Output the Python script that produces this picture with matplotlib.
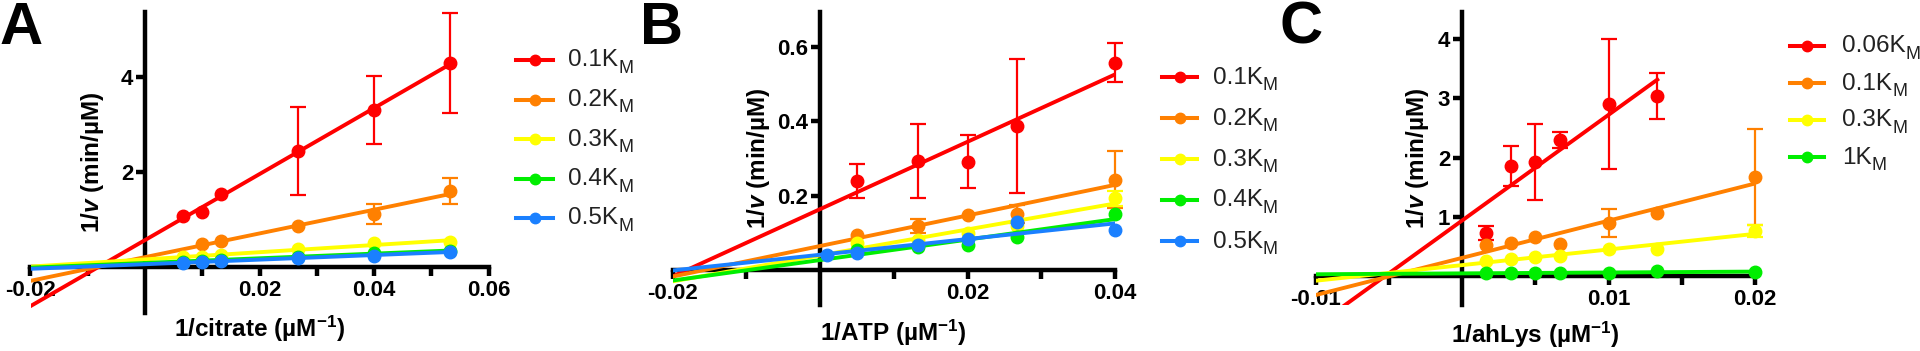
import numpy as np
import matplotlib
matplotlib.use("Agg")
import matplotlib.pyplot as plt
from matplotlib.lines import Line2D

plt.rcParams['font.family'] = 'Liberation Sans'
plt.rcParams['mathtext.fontset'] = 'custom'
plt.rcParams['mathtext.rm'] = 'Liberation Sans'
plt.rcParams['mathtext.it'] = 'Liberation Sans:italic:bold'
plt.rcParams['mathtext.bf'] = 'Liberation Sans:bold'
plt.rcParams['axes.unicode_minus'] = False

colores = ['#FF0000', '#FF8000', '#FFFF00', '#00EE00', '#1A80FF']

# A: 1/citrate
a_x = [0.00667, 0.01, 0.01333, 0.02667, 0.04, 0.05333]
a_labels = ['0.1', '0.2', '0.3', '0.4', '0.5']
a_xs = [a_x, a_x[1:], a_x, a_x, a_x]
a_ys = [[1.08, 1.16, 1.54, 2.44, 3.31, 4.29],
        [0.48, 0.55, 0.86, 1.12, 1.60],
        [0.21, 0.22, 0.25, 0.38, 0.50, 0.53],
        [0.11, 0.13, 0.15, 0.22, 0.30, 0.33],
        [0.08, 0.11, 0.13, 0.19, 0.24, 0.32]]
a_err = [[0, 0, 0, 0.92, 0.72, 1.05],
         [0, 0, 0, 0.21, 0.27],
         [0, 0, 0, 0, 0, 0],
         [0, 0, 0, 0, 0, 0],
         [0, 0, 0, 0, 0, 0]]

# B: 1/ATP
b_x = [0.005, 0.01333, 0.02, 0.02667, 0.04]
b_x_azul = [0.001, 0.005, 0.01333, 0.02, 0.02667, 0.04]
b_labels = ['0.1', '0.2', '0.3', '0.4', '0.5']
b_xs = [b_x, b_x, b_x, b_x, b_x_azul]
b_ys = [[0.239, 0.293, 0.291, 0.387, 0.557],
        [0.094, 0.118, 0.148, 0.150, 0.243],
        [0.072, 0.080, 0.099, 0.118, 0.193],
        [0.054, 0.062, 0.067, 0.089, 0.150],
        [0.040, 0.046, 0.066, 0.082, 0.128, 0.107]]
b_err = [[0.046, 0.10, 0.072, 0.18, 0.052],
         [0, 0.019, 0, 0.024, 0.077],
         [0, 0, 0, 0, 0.02],
         [0, 0, 0, 0, 0],
         [0, 0, 0, 0, 0, 0]]

# C: 1/ahLys
c_x = [0.00167, 0.00333, 0.005, 0.00667, 0.01, 0.01333, 0.02]
c_labels = ['0.06', '0.1', '0.3', '1']
c_xs = [c_x[:6], c_x, c_x, c_x]
c_ys = [[0.73, 1.86, 1.93, 2.30, 2.90, 3.04],
        [0.52, 0.56, 0.66, 0.54, 0.90, 1.06, 1.67],
        [0.25, 0.29, 0.32, 0.33, 0.46, 0.46, 0.76],
        [0.05, 0.05, 0.05, 0.05, 0.05, 0.08, 0.07]]
c_err = [[0.12, 0.335, 0.64, 0.135, 1.1, 0.39],
         [0, 0, 0, 0, 0.235, 0, 0.81],
         [0, 0, 0, 0, 0, 0, 0.10],
         [0, 0, 0, 0, 0, 0, 0]]

W, H = 1920, 351
fig = plt.figure(figsize=(W / 100, H / 100), dpi=100)
rend = fig.canvas.get_renderer()


def caja(x0, x1, ytop, ybot):
    return [x0 / W, 1 - ybot / H, (x1 - x0) / W, (ybot - ytop) / H]


def leyenda(labels, x0, x1, xt, y0, paso):
    # filas de la leyenda en pixeles de la figura
    for i, lab in enumerate(labels):
        yp = y0 + i * paso
        yf = 1 - yp / H
        c = colores[i]
        fig.add_artist(Line2D([x0 / W, x1 / W], [yf, yf], transform=fig.transFigure,
                              color=c, lw=2.9))
        fig.add_artist(Line2D([(x0 + x1) / 2 / W], [yf], transform=fig.transFigure,
                              color=c, marker='o', ms=7.5, lw=0))
        t = fig.text(xt / W, 1 - (yp + 6.5) / H, lab + 'K', fontsize=17.5,
                     color='#222222', va='baseline', ha='left')
        bb = t.get_window_extent(rend)
        fig.text(bb.x1 / W, 1 - (yp + 13) / H, 'M', fontsize=13,
                 color='#222222', va='baseline', ha='left')


def panel(pos, xlim, ylim, xs, ys, errs, xmaj, xmaj_lab, xmin,
          yt, yt_lab, xlabel, ylab_x, xlab_y, letra, letra_x):
    ax = fig.add_axes(pos)
    ax.set_xlim(xlim)
    ax.set_ylim(ylim)
    for i in range(len(xs)):
        x = np.array(xs[i])
        y = np.array(ys[i])
        e = np.array(errs[i])
        c = colores[i]
        coef = np.polyfit(x, y, 1)
        xl = np.array([xlim[0], x.max()])
        ax.plot(xl, np.polyval(coef, xl), color=c, lw=2.8, zorder=3 + i)
        m = e > 0
        if m.any():
            ax.errorbar(x[m], y[m], yerr=e[m], fmt='none', ecolor=c, elinewidth=1.6,
                        capsize=5.5, capthick=1.6, zorder=3 + i, clip_on=False)
        ax.plot(x, y, 'o', color=c, ms=9, zorder=3 + i, clip_on=False)
    for s in ['top', 'right']:
        ax.spines[s].set_visible(False)
    ax.spines['left'].set_position(('data', 0))
    ax.spines['bottom'].set_position(('data', 0))
    for s in ['left', 'bottom']:
        ax.spines[s].set_linewidth(3.2)
        ax.spines[s].set_zorder(2)
    ax.set_xticks(xmaj, xmaj_lab, fontweight='bold')
    ax.set_xticks(xmin, minor=True)
    ax.set_yticks(yt, yt_lab, fontweight='bold')
    ax.tick_params(axis='both', which='both', direction='out', length=6.5, width=3.2,
                   labelsize=16)
    ax.tick_params(axis='x', pad=3)
    ax.tick_params(axis='y', pad=2)
    ax.set_xlabel(xlabel, fontsize=17.5, fontweight='bold', va='center')
    ax.set_ylabel('1/$\\mathit{v}$ (min/µM)', fontsize=17.5, fontweight='bold', va='center')
    ax.xaxis.set_label_coords(0.5, xlab_y)
    ax.yaxis.set_label_coords(ylab_x, 0.5)
    fig.text(letra_x / W, 1 - 1 / H, letra, fontsize=43, fontweight='bold', va='top', ha='left')
    return ax


panel(caja(30.5, 488.5, 12, 313), (-0.02, 0.06), (-0.97, 5.37), a_xs, a_ys, a_err,
      [-0.02, 0.02, 0.04, 0.06], ['-0.02', '0.02', '0.04', '0.06'], [-0.01, 0.01, 0.03, 0.05],
      [2, 4], ['2', '4'], '1/citrate (µM$^{\\mathregular{-1}}$)', 0.136, -0.053, 'A', 0)
leyenda(a_labels, 516, 553, 568, 60, 39.5)

panel(caja(672.5, 1115, 12, 305), (-0.02, 0.04), (-0.094, 0.693), b_xs, b_ys, b_err,
      [-0.02, 0.02, 0.04], ['-0.02', '0.02', '0.04'], [-0.01, 0.01, 0.03],
      [0.2, 0.4, 0.6], ['0.2', '0.4', '0.6'], '1/ATP (µM$^{\\mathregular{-1}}$)', 0.195, -0.096,
      'B', 640)
leyenda(b_labels, 1162, 1197, 1213, 77, 41)

panel(caja(1315.5, 1755, 12, 305), (-0.01, 0.02), (-0.49, 4.46), c_xs, c_ys, c_err,
      [-0.01, 0.01, 0.02], ['-0.01', '0.01', '0.02'], [-0.005, 0.005, 0.015],
      [1, 2, 3, 4], ['1', '2', '3', '4'], '1/ahLys (µM$^{\\mathregular{-1}}$)', 0.233, -0.102,
      'C', 1280)
leyenda(c_labels, 1790, 1824, 1842, 46, 37)

fig.savefig('out.png', dpi=100)
